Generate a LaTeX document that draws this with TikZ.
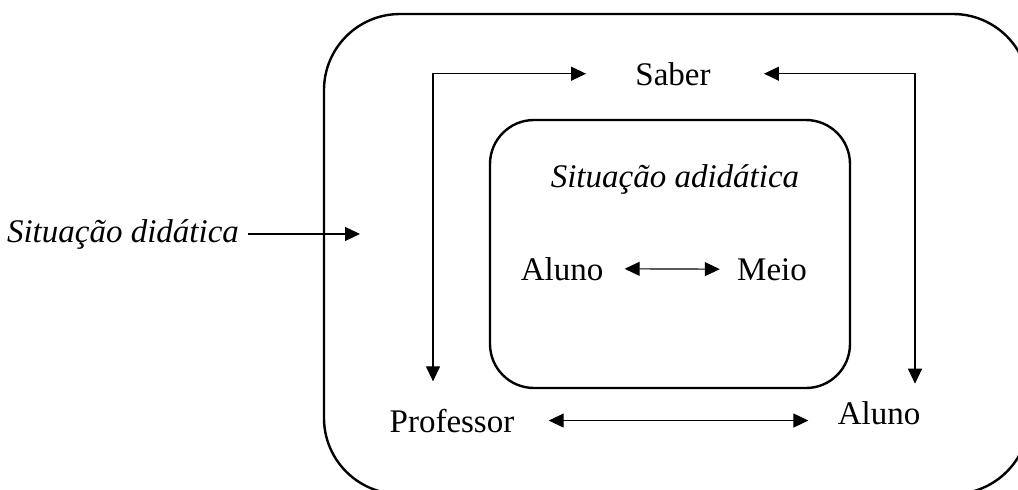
\documentclass[tikz,border=0pt]{standalone}
\usepackage{fontspec}
\setmainfont{Liberation Serif}
\usetikzlibrary{arrows.meta}
\tikzset{
  txt/.style={font=\fontsize{16.5}{20}\selectfont, inner sep=2pt, anchor=base},
  frame/.style={line width=1.2pt},
  link/.style={line width=0.6pt, -{Triangle[length=7.5pt,width=7pt]}},
  dlink/.style={line width=0.6pt, {Triangle[length=7.5pt,width=7pt]}-{Triangle[length=7.5pt,width=7pt]}}
}
\begin{document}
\begin{tikzpicture}[x=0.5pt, y=-0.5pt]
    \useasboundingbox (0,0) rectangle (1018,489);
    \clip (0,0) rectangle (1018,489);
    % frames
    \draw[frame, rounded corners=38pt] (324,14) rectangle (1029,494);
    \draw[frame, rounded corners=22pt] (490,120) rectangle (850,388);
    % texts
    \node[txt] (saber) at (673,85) {Saber};
    \node[txt] (adid) at (675,187) {\itshape Situação adidática};
    \node[txt] (alunoin) at (562,280) {Aluno};
    \node[txt] (meio) at (772,280) {Meio};
    \node[txt] (prof) at (452,432) {Professor};
    \node[txt] (aluno) at (879,424) {Aluno};
    \node[txt] (didat) at (123,242) {\itshape Situação didática};
    \coordinate (dtip) at (360,237);
    % arrows
    \draw[dlink, shorten <=8.5pt, shorten >=6.5pt] (alunoin.east) -- (meio.west);
    \draw[dlink, shorten <=15pt, shorten >=12.5pt] (prof.east) -- (prof.east -| aluno.west);
    \draw[dlink, shorten <=11.5pt, shorten >=22.5pt] ([xshift=-9.5pt]prof.north) |- (saber.west);
    \draw[dlink, shorten <=6.5pt, shorten >=24.5pt] ([xshift=18pt]aluno.north) |- (saber.east);
    \draw[link, shorten <=2.5pt] (didat.east) -- (didat.east -| dtip);
\end{tikzpicture}
\end{document}
